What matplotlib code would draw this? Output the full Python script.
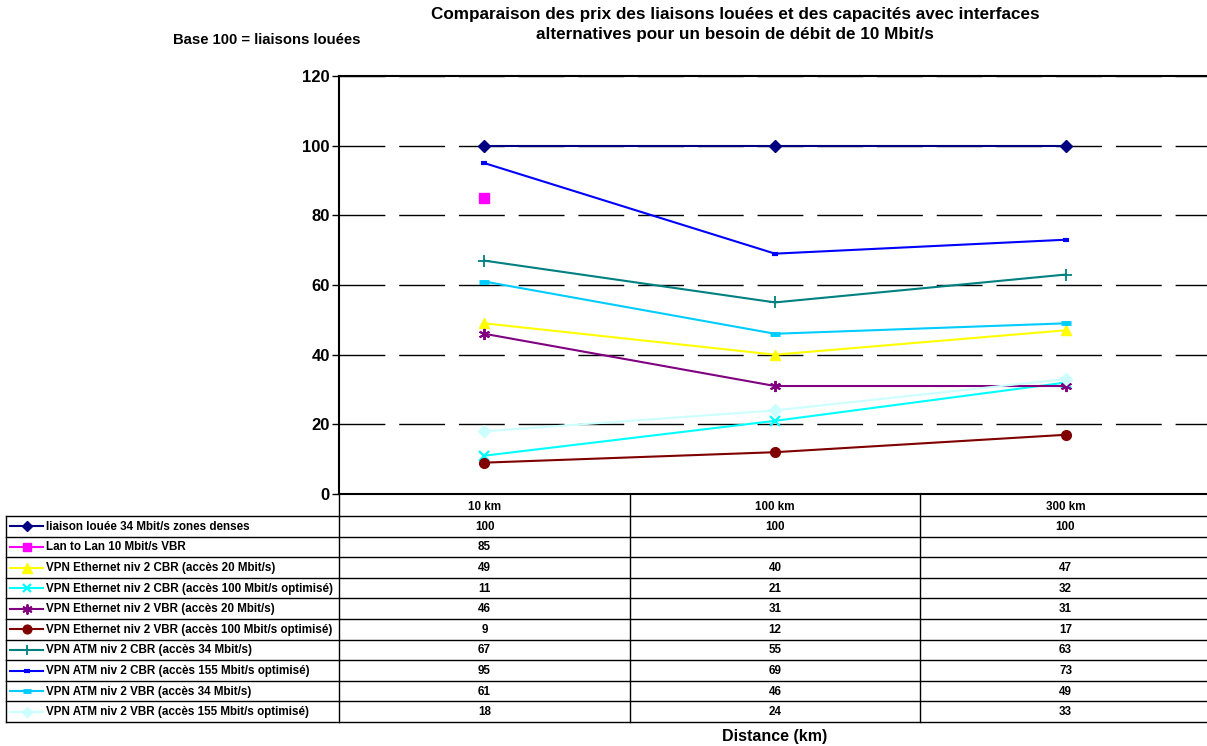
import matplotlib
matplotlib.use("Agg")
import matplotlib.pyplot as plt
from matplotlib.lines import Line2D
import numpy as np

plt.rcParams['font.family'] = ['Liberation Sans', 'DejaVu Sans']

# ---- data ----
categories = ["10 km", "100 km", "300 km"]

series_names = [
    "liaison louée 34 Mbit/s zones denses",
    "Lan to Lan 10 Mbit/s VBR",
    "VPN Ethernet niv 2 CBR (accès 20 Mbit/s)",
    "VPN Ethernet niv 2 CBR (accès 100 Mbit/s optimisé)",
    "VPN Ethernet niv 2 VBR (accès 20 Mbit/s)",
    "VPN Ethernet niv 2 VBR (accès 100 Mbit/s optimisé)",
    "VPN ATM niv 2 CBR (accès 34 Mbit/s)",
    "VPN ATM niv 2 CBR (accès 155 Mbit/s optimisé)",
    "VPN ATM niv 2 VBR (accès 34 Mbit/s)",
    "VPN ATM niv 2 VBR (accès 155 Mbit/s optimisé)",
]

liaison_louee = [100, 100, 100]
lan_to_lan = [85, None, None]
eth_cbr_20 = [49, 40, 47]
eth_cbr_100 = [11, 21, 32]
eth_vbr_20 = [46, 31, 31]
eth_vbr_100 = [9, 12, 17]
atm_cbr_34 = [67, 55, 63]
atm_cbr_155 = [95, 69, 73]
atm_vbr_34 = [61, 46, 49]
atm_vbr_155 = [18, 24, 33]

series_values = [liaison_louee, lan_to_lan, eth_cbr_20, eth_cbr_100, eth_vbr_20,
                 eth_vbr_100, atm_cbr_34, atm_cbr_155, atm_vbr_34, atm_vbr_155]

y_ticks = [0, 20, 40, 60, 80, 100, 120]

# ---- styles ----
styles = [
    dict(color="#000080", marker="D", ms=6),
    dict(color="#FF00FF", marker="s", ms=6.5),
    dict(color="#FFFF00", marker="^", ms=7.5),
    dict(color="#00FFFF", marker="x", ms=7, mew=1.6),
    dict(color="#800080", marker=(6, 2, 0), ms=8, mew=1.4),
    dict(color="#800000", marker="o", ms=7),
    dict(color="#008080", marker="+", ms=8, mew=1.3),
    dict(color="#0000FF", marker="_", ms=5, mew=3),
    dict(color="#00CCFF", marker="_", ms=7, mew=3.5),
    dict(color="#CCFFFF", marker="D", ms=6),
]

TABLE_FS = 8.4

W, H = 1207, 746
fig = plt.figure(figsize=(W / 100, H / 100), dpi=100)

def fbox(x0, y0, x1, y1):
    return [x0 / W, 1 - y1 / H, (x1 - x0) / W, (y1 - y0) / H]

# ---- main plot ----
ax = fig.add_axes(fbox(339, 76, 1211, 494))
x = np.arange(len(categories))
for vals, st in zip(series_values, styles):
    yv = np.array([np.nan if v is None else v for v in vals], dtype=float)
    ax.plot(x, yv, color=st["color"], lw=1.5, marker=st["marker"],
            markersize=st["ms"], markeredgewidth=st.get("mew", 1),
            markerfacecolor=st["color"], markeredgecolor=st["color"],
            zorder=3, clip_on=False)

ax.set_xlim(-0.5, len(categories) - 0.5)
ax.set_ylim(0, 120)
ax.set_yticks(y_ticks)
ax.set_yticklabels([str(t) for t in y_ticks], fontsize=12, fontweight="bold")
ax.set_xticks([])
ax.tick_params(axis="y", direction="out", length=5, width=1, pad=1.5)
ax.yaxis.grid(True, color="black", lw=1, linestyle=(0, (33, 10)))
ax.set_axisbelow(True)
for s in ["top", "left", "bottom"]:
    ax.spines[s].set_linewidth(1.5)
ax.spines["right"].set_visible(False)

# ---- data table drawn beneath the plot ----
tab = fig.add_axes([0, 0, 1, 1], zorder=-1)
tab.set_xlim(0, W)
tab.set_ylim(H, 0)
tab.axis("off")

left, label_right, right = 6, 339, 1211
col_edges = [339, 630, 920, 1211]
header_top, rows_top, row_h = 494, 516, 20.6
n_rows = len(series_names)
bottom = rows_top + n_rows * row_h

# header row
for c, name in enumerate(categories):
    cx = (col_edges[c] + col_edges[c + 1]) / 2
    tab.text(cx, (header_top + rows_top) / 2 + 1.5, name, ha="center", va="center",
             fontsize=TABLE_FS, fontweight="bold")

# horizontal rules
for i in range(n_rows + 1):
    yy = rows_top + i * row_h
    tab.plot([left, right], [yy, yy], color="black", lw=1)
# vertical rules
tab.plot([left, left], [rows_top, bottom], color="black", lw=1)
for xe in col_edges[:-1]:
    tab.plot([xe, xe], [header_top, bottom], color="black", lw=1)

# rows: legend key, series name, values
for i, (name, vals, st) in enumerate(zip(series_names, series_values, styles)):
    cy = rows_top + (i + 0.5) * row_h
    tab.add_line(Line2D([10, 43], [cy, cy], color=st["color"], lw=1.5))
    tab.add_line(Line2D([26.5], [cy], color=st["color"], marker=st["marker"],
                        markersize=st["ms"] * 0.9, markeredgewidth=st.get("mew", 1),
                        markerfacecolor=st["color"], markeredgecolor=st["color"]))
    tab.text(46, cy + 0.5, name, ha="left", va="center", fontsize=TABLE_FS, fontweight="bold")
    for c, v in enumerate(vals):
        if v is None:
            continue
        cx = (col_edges[c] + col_edges[c + 1]) / 2
        tab.text(cx, cy + 0.5, f"{v:g}", ha="center", va="center",
                 fontsize=TABLE_FS, fontweight="bold")

# ---- titles ----
fig.text(735 / W, 1 - 24.5 / H,
         "Comparaison des prix des liaisons louées et des capacités avec interfaces\n"
         "alternatives pour un besoin de débit de 10 Mbit/s",
         ha="center", va="center", fontsize=12.3, fontweight="bold", linespacing=1.4)
fig.text(267 / W, 1 - 39.5 / H, "Base 100 = liaisons louées", ha="center", va="center",
         fontsize=10.7, fontweight="bold")
fig.text(775 / W, 1 - 737 / H, "Distance (km)", ha="center", va="center",
         fontsize=11.5, fontweight="bold")

fig.savefig("out.png", dpi=100)
